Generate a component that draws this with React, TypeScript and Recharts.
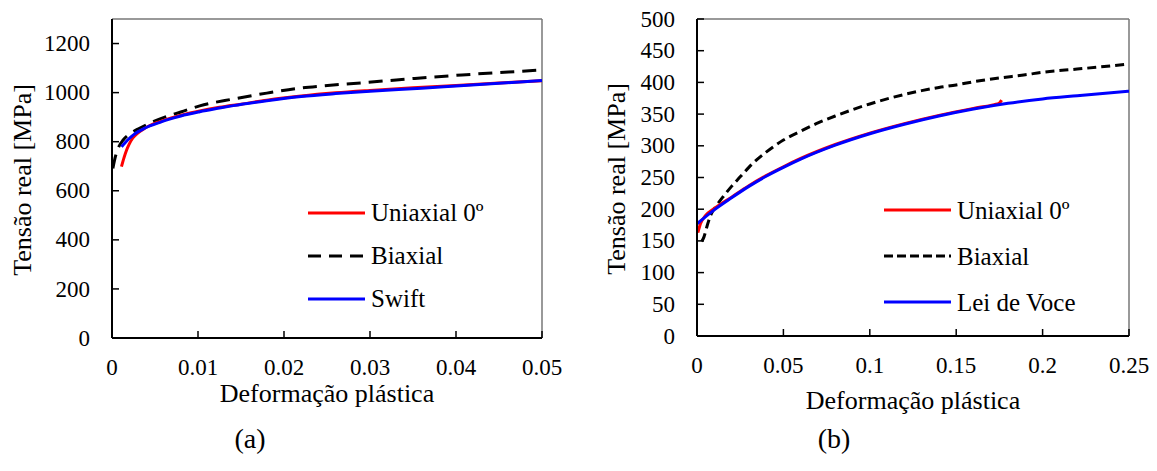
import React from "react";
import { LineChart, Line, XAxis, YAxis, ReferenceLine } from "recharts";

// (a) left chart
const uniLeftX = [0.0011, 0.0014, 0.0017, 0.002, 0.0024, 0.003, 0.0036, 0.0044, 0.0055, 0.007, 0.0085, 0.0102, 0.0125, 0.015, 0.018, 0.022, 0.026, 0.03, 0.035, 0.04, 0.045, 0.05];
const uniLeftY = [698, 735, 766, 790, 814, 835, 850, 866, 881, 898, 912, 925, 940, 953, 969, 986, 999, 1009, 1020, 1029, 1039, 1048];
const biaxLeftX = [0.0001, 0.0004, 0.0008, 0.0013, 0.002, 0.0032, 0.0045, 0.0063, 0.008, 0.0102, 0.0141, 0.018, 0.0218, 0.0244, 0.0298, 0.0352, 0.0407, 0.0461, 0.05];
const biaxLeftY = [691, 740, 780, 807, 830, 855, 877, 902, 921, 946, 974, 998, 1018, 1027, 1042, 1058, 1072, 1084, 1092];
const swiftX = [0.0011, 0.0015, 0.002, 0.0025, 0.003, 0.0037, 0.0044, 0.0055, 0.0065, 0.008, 0.0102, 0.0125, 0.0141, 0.018, 0.022, 0.026, 0.03, 0.036, 0.04, 0.045, 0.05];
const swiftY = [779, 795, 813, 828, 840, 853, 864, 878, 890, 905, 922, 937, 947, 967, 984, 996, 1006, 1018, 1027, 1038, 1049];

// (b) right chart
const uniRightX = [0.0005, 0.002, 0.005, 0.01, 0.02, 0.03, 0.04, 0.05, 0.06, 0.08, 0.1, 0.12, 0.14, 0.16, 0.172, 0.1748, 0.1763];
const uniRightY = [163, 177, 190, 201, 219, 237, 253, 267, 280, 302, 320, 335, 348, 359, 365, 367, 372];
const biaxRightX = [0.0027, 0.004, 0.006, 0.008, 0.0114, 0.0152, 0.02, 0.025, 0.03, 0.035, 0.04, 0.045, 0.05, 0.06, 0.07, 0.08, 0.09, 0.1, 0.11, 0.12, 0.13, 0.14, 0.15, 0.16, 0.175, 0.19, 0.2, 0.22, 0.25];
const biaxRightY = [149, 156, 175, 191, 206, 220, 236, 251, 266, 279, 290, 300, 309, 323, 336, 347, 357, 366, 374, 381, 387, 392, 396, 401, 407, 412, 416, 421, 429];
const voceX = [0, 0.01, 0.02, 0.03, 0.04, 0.05, 0.06, 0.08, 0.1, 0.12, 0.14, 0.16, 0.18, 0.2, 0.22, 0.25];
const voceY = [177, 199, 218, 236, 252, 266, 279, 301, 319, 334, 347, 358, 367, 374, 379, 386];

const leftXTicks = [0, 0.01, 0.02, 0.03, 0.04, 0.05];
const leftYTicks = [0, 200, 400, 600, 800, 1000, 1200];
const rightXTicks = [0, 0.05, 0.1, 0.15, 0.2, 0.25];
const rightYTicks = [0, 50, 100, 150, 200, 250, 300, 350, 400, 450, 500];

const FONT = "'Liberation Serif', 'Times New Roman', serif";
const TICK_FS = 23;
const MARGIN = 4;

const zip = (xs: number[], ys: number[]) => xs.map((x, i) => ({ x, y: ys[i] }));

function YTick(props: any) {
  const ax = props.x + MARGIN;
  return (
    <g>
      <line x1={ax} x2={ax + 7} y1={props.y} y2={props.y} stroke="#000" strokeWidth={1.5} />
      <text x={ax - 22} y={props.y + TICK_FS * 0.33} textAnchor="end" fontFamily={FONT} fontSize={TICK_FS} fill="#000">
        {String(props.payload.value)}
      </text>
    </g>
  );
}

function XTick(props: any) {
  const ay = props.y - MARGIN;
  return (
    <g>
      <line x1={props.x} x2={props.x} y1={ay} y2={ay - 7} stroke="#000" strokeWidth={1.5} />
      <text x={props.x} y={ay + 37} textAnchor="middle" fontFamily={FONT} fontSize={TICK_FS} fill="#000">
        {String(props.payload.value)}
      </text>
    </g>
  );
}

interface LegendItem {
  label: string;
  color: string;
  dashed?: boolean;
}

function LegendBox({ items, left, top, lineW, gap, dash }: { items: LegendItem[]; left: number; top: number; lineW: number; gap: number; dash: string }) {
  return (
    <div style={{ position: "absolute", left, top }}>
      {items.map((it) => (
        <div key={it.label} style={{ display: "flex", alignItems: "center", height: gap }}>
          <svg width={lineW + 6} height={10} style={{ display: "block" }}>
            <line x1={0} x2={lineW} y1={5} y2={5} stroke={it.color} strokeWidth={3} strokeDasharray={it.dashed ? dash : undefined} />
          </svg>
          <span style={{ fontFamily: FONT, fontSize: 25, color: "#000", lineHeight: 1 }}>{it.label}</span>
        </div>
      ))}
    </div>
  );
}

const title: React.CSSProperties = { position: "absolute", fontFamily: FONT, fontSize: 26, color: "#000", whiteSpace: "nowrap", lineHeight: 1 };

export default function App() {
  return (
    <div style={{ position: "absolute", left: 0, top: 0, width: 1157, height: 471, background: "#fff", overflow: "hidden" }}>
      {/* (a) */}
      <div style={{ position: "absolute", left: 0, top: 0 }}>
        <LineChart width={580} height={400} margin={{ top: 19, right: 38, bottom: 22, left: 52 }}>
          <XAxis dataKey="x" type="number" domain={[0, 0.05]} ticks={leftXTicks} allowDataOverflow height={40}
            axisLine={{ stroke: "#000", strokeWidth: 2 }} tickLine={false} tickSize={0} tickMargin={MARGIN} tick={<XTick />} interval={0} />
          <YAxis dataKey="y" type="number" domain={[0, 1300]} ticks={leftYTicks} allowDataOverflow width={60}
            axisLine={{ stroke: "#000", strokeWidth: 2 }} tickLine={false} tickSize={0} tickMargin={MARGIN} tick={<YTick />} interval={0} />
          <ReferenceLine y={1300} stroke="#777" strokeWidth={1.5} />
          <ReferenceLine x={0.05} stroke="#777" strokeWidth={1.5} />
          <Line data={zip(biaxLeftX, biaxLeftY)} dataKey="y" type="monotone" stroke="#000" strokeWidth={3} strokeDasharray="14 8" dot={false} isAnimationActive={false} />
          <Line data={zip(uniLeftX, uniLeftY)} dataKey="y" type="monotone" stroke="#ff0000" strokeWidth={3} dot={false} isAnimationActive={false} />
          <Line data={zip(swiftX, swiftY)} dataKey="y" type="monotone" stroke="#0000ff" strokeWidth={3} dot={false} isAnimationActive={false} />
        </LineChart>
        <div style={{ ...title, left: 23, top: 180, transform: "translate(-50%, -50%) rotate(-90deg)" }}>Tensão real [MPa]</div>
        <div style={{ ...title, left: 327, top: 394, transform: "translate(-50%, -50%)" }}>Deformação plástica</div>
        <LegendBox
          items={[
            { label: "Uniaxial 0º", color: "#ff0000" },
            { label: "Biaxial", color: "#000", dashed: true },
            { label: "Swift", color: "#0000ff" },
          ]}
          left={308} top={191} lineW={57} gap={43} dash="13 8"
        />
      </div>
      <div style={{ ...title, fontSize: 28, left: 250, top: 439, transform: "translate(-50%, -50%)" }}>(a)</div>

      {/* (b) */}
      <div style={{ position: "absolute", left: 580, top: 0 }}>
        <LineChart width={577} height={400} margin={{ top: 19, right: 28, bottom: 24, left: 57 }}>
          <XAxis dataKey="x" type="number" domain={[0, 0.25]} ticks={rightXTicks} allowDataOverflow height={40}
            axisLine={{ stroke: "#000", strokeWidth: 2 }} tickLine={false} tickSize={0} tickMargin={MARGIN} tick={<XTick />} interval={0} />
          <YAxis dataKey="y" type="number" domain={[0, 500]} ticks={rightYTicks} allowDataOverflow width={60}
            axisLine={{ stroke: "#000", strokeWidth: 2 }} tickLine={false} tickSize={0} tickMargin={MARGIN} tick={<YTick />} interval={0} />
          <ReferenceLine y={500} stroke="#777" strokeWidth={1.5} />
          <ReferenceLine x={0.25} stroke="#777" strokeWidth={1.5} />
          <Line data={zip(biaxRightX, biaxRightY)} dataKey="y" type="monotone" stroke="#000" strokeWidth={3} strokeDasharray="9 5" dot={false} isAnimationActive={false} />
          <Line data={zip(uniRightX, uniRightY)} dataKey="y" type="monotone" stroke="#ff0000" strokeWidth={3} dot={false} isAnimationActive={false} />
          <Line data={zip(voceX, voceY)} dataKey="y" type="monotone" stroke="#0000ff" strokeWidth={3} dot={false} isAnimationActive={false} />
        </LineChart>
        <div style={{ ...title, left: 37, top: 179, transform: "translate(-50%, -50%) rotate(-90deg)" }}>Tensão real [MPa]</div>
        <div style={{ ...title, left: 333, top: 401, transform: "translate(-50%, -50%)" }}>Deformação plástica</div>
        <LegendBox
          items={[
            { label: "Uniaxial 0º", color: "#ff0000" },
            { label: "Biaxial", color: "#000", dashed: true },
            { label: "Lei de Voce", color: "#0000ff" },
          ]}
          left={304} top={187} lineW={67} gap={46} dash="9 4"
        />
      </div>
      <div style={{ ...title, fontSize: 28, left: 834, top: 439, transform: "translate(-50%, -50%)" }}>(b)</div>
    </div>
  );
}
